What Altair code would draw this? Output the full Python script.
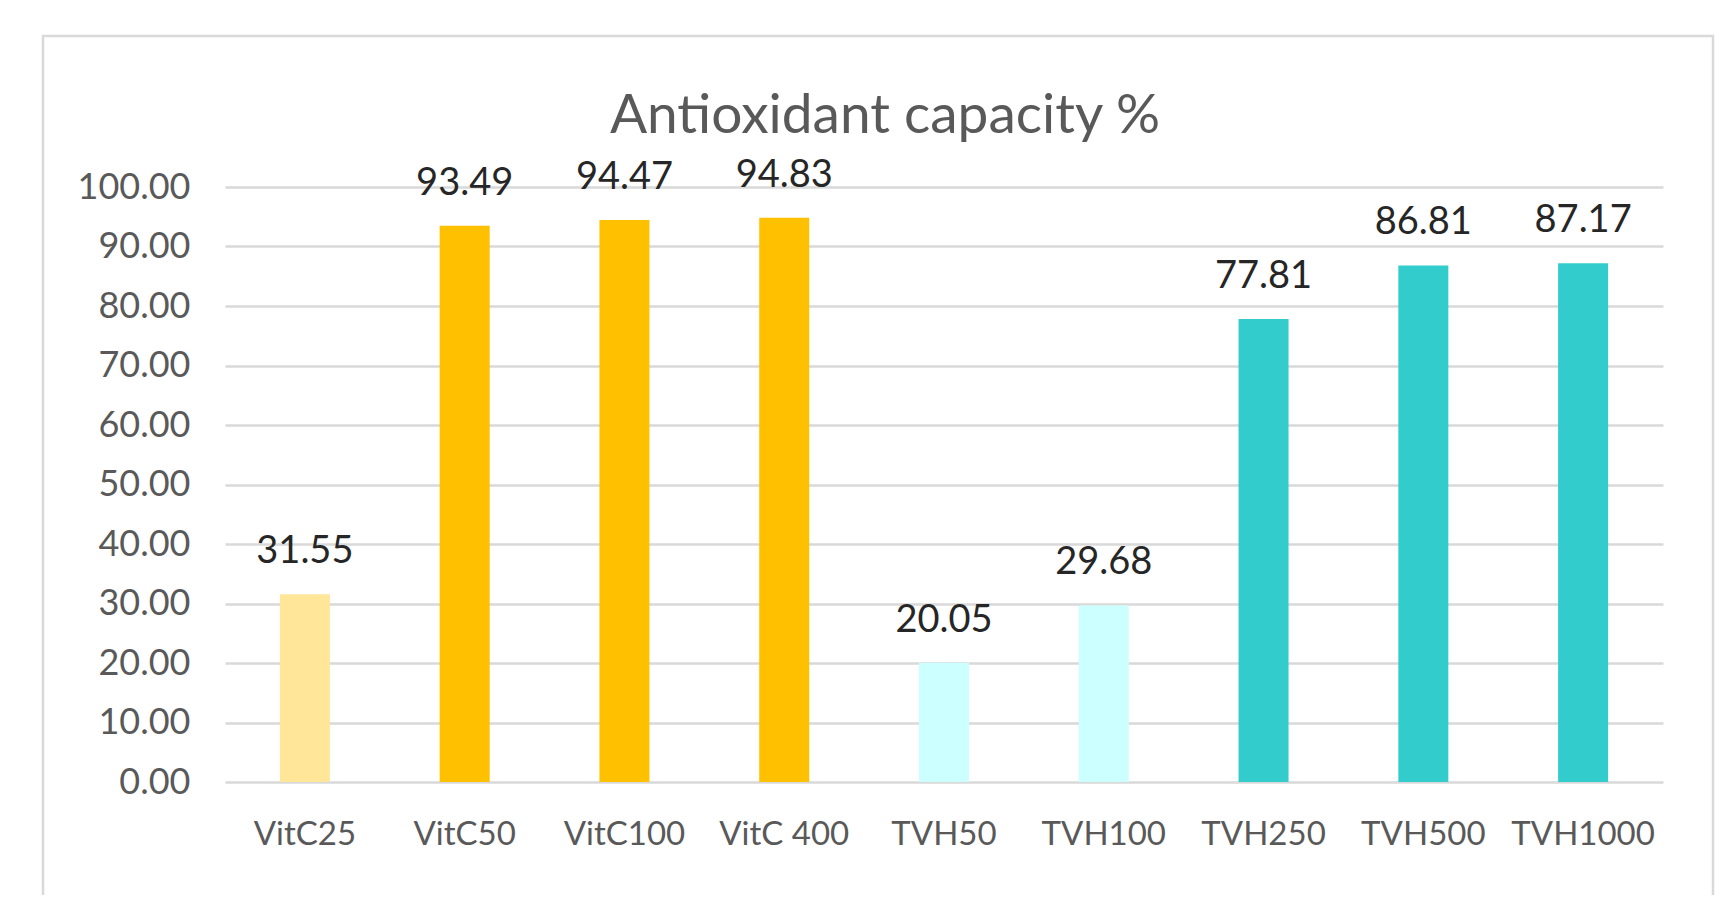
import altair as alt
import pandas as pd

# ---- data ----
categories = ["VitC25", "VitC50", "VitC100", "VitC 400", "TVH50", "TVH100", "TVH250", "TVH500", "TVH1000"]
values = [31.55, 93.49, 94.47, 94.83, 20.05, 29.68, 77.81, 86.81, 87.17]
groups = ["VitC low", "VitC", "VitC", "VitC", "TVH low", "TVH low", "TVH", "TVH", "TVH"]
y_ticks = [0, 10, 20, 30, 40, 50, 60, 70, 80, 90, 100]
title_text = "Antioxidant capacity %"

group_domain = ["VitC low", "VitC", "TVH low", "TVH"]
group_colors = ["#FFE699", "#FFC000", "#CCFFFF", "#33CCCC"]

df = pd.DataFrame({"cat": categories, "val": values, "grp": groups})

FONT = "Lato"
W, H = 1438, 595

base = alt.Chart(df)

x_enc = alt.X(
    "cat:N",
    sort=categories,
    scale=alt.Scale(paddingInner=0, paddingOuter=0),
    axis=alt.Axis(
        title=None,
        labelAngle=0,
        labelFont=FONT,
        labelFontSize=33,
        labelColor="#595959",
        labelBaseline="alphabetic",
        labelPadding=62,
        ticks=False,
        domain=False,
        grid=False,
    ),
)
y_enc = alt.Y(
    "val:Q",
    scale=alt.Scale(domain=[0, 100], nice=False, zero=True),
    axis=alt.Axis(
        title=None,
        values=y_ticks,
        format=".2f",
        labelFont=FONT,
        labelFontSize=36,
        labelColor="#595959",
        labelPadding=35,
        labelBaseline="middle",
        ticks=False,
        domain=False,
        grid=True,
        gridColor="#D9D9D9",
        gridWidth=2.5,
    ),
)

bars = base.mark_bar(size=50).encode(
    x=x_enc,
    y=y_enc,
    color=alt.Color("grp:N", scale=alt.Scale(domain=group_domain, range=group_colors), legend=None),
)

labels = base.mark_text(
    font=FONT, fontSize=38, color="#262626", baseline="alphabetic", align="center", dy=-31
).encode(
    x=alt.X("cat:N", sort=categories),
    y=alt.Y("val:Q"),
    text=alt.Text("val:Q", format=".2f"),
)

title_df = pd.DataFrame({"t": [title_text]})
title = alt.Chart(title_df).mark_text(
    font=FONT, fontSize=55, color="#595959", baseline="alphabetic", align="center"
).encode(
    x=alt.value(660),
    y=alt.value(-54),
    text="t:N",
)

frame = alt.Chart(title_df).mark_rect(
    fillOpacity=0, stroke="#D9D9D9", strokeWidth=2.5
).encode(
    x=alt.value(-182),
    x2=alt.value(1488),
    y=alt.value(-151),
    y2=alt.value(800),
)

chart = (
    alt.layer(frame, bars, labels, title)
    .properties(
        width=W,
        height=H,
        autosize=alt.AutoSizeParams(type="none"),
        padding={"left": 217, "top": 179, "right": 52, "bottom": 113},
        background="white",
    )
    .configure_view(stroke="transparent")
)

chart.save("out.html", embed_options={"renderer": "svg", "actions": False})
